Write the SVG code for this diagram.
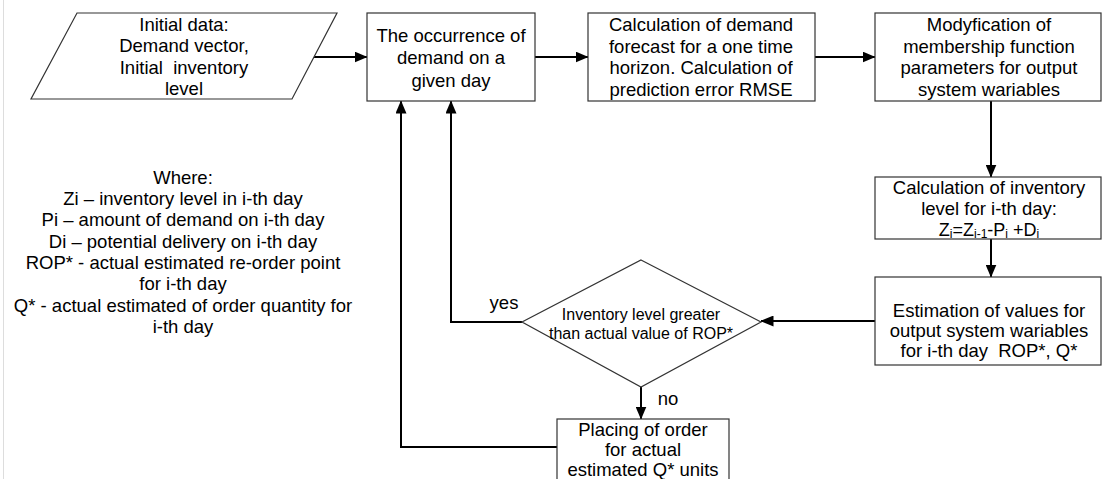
<svg xmlns="http://www.w3.org/2000/svg" width="1103" height="479" viewBox="0 0 1103 479">
<style>
text{font-family:"Liberation Sans",Arial,sans-serif;font-size:18.5px;fill:#000;text-anchor:middle}
.shape{fill:#fff;stroke:#333;stroke-width:1.2}
.conn{fill:none;stroke:#000;stroke-width:2}
.sm{font-size:18px}
.d{font-size:16px}
.sub{font-size:12px}
</style>
<defs>
<marker id="ah" markerUnits="userSpaceOnUse" markerWidth="13" markerHeight="11" refX="12.5" refY="5.5" orient="auto">
<path d="M0,0 L13,5.5 L0,11 z" fill="#000"/>
</marker>
</defs>
<rect width="1103" height="479" fill="#fff"/>
<line x1="3.5" y1="0" x2="3.5" y2="479" stroke="#ddd" stroke-width="1"/>
<g id="connectors">
<path class="conn" d="M314,57 H367" marker-end="url(#ah)"/>
<path class="conn" d="M535,57 H588" marker-end="url(#ah)"/>
<path class="conn" d="M815,57 H875" marker-end="url(#ah)"/>
<path class="conn" d="M991,101 V177" marker-end="url(#ah)"/>
<path class="conn" d="M991,239 V277" marker-end="url(#ah)"/>
<path class="conn" d="M875,321 H761" marker-end="url(#ah)"/>
<path class="conn" d="M522,322 H451 V101" marker-end="url(#ah)"/>
<path class="conn" d="M641,387 V419" marker-end="url(#ah)"/>
<path class="conn" d="M557,447 H401 V101" marker-end="url(#ah)"/>
</g>
<g id="input">
<polygon class="shape" points="77,13 337,13 292,99 31,99"/>
<text x="184" y="30.5">Initial data:</text>
<text x="184" y="52">Demand vector,</text>
<text x="184" y="73.5" xml:space="preserve">Initial  inventory</text>
<text x="184" y="95">level</text>
</g>
<g id="occurrence">
<rect class="shape" x="367" y="13" width="168" height="88"/>
<text x="451" y="41.5">The occurrence of</text>
<text x="451" y="64">demand on a</text>
<text x="451" y="86.5">given day</text>
</g>
<g id="forecast">
<rect class="shape" x="588" y="13" width="227" height="88"/>
<text x="701" y="31">Calculation of demand</text>
<text x="701" y="52.5">forecast for a one time</text>
<text x="701" y="74">horizon. Calculation of</text>
<text x="701" y="95.5">prediction error RMSE</text>
</g>
<g id="modification">
<rect class="shape" x="875" y="13" width="226" height="88"/>
<text x="989" y="31">Modyfication of</text>
<text x="989" y="52.5">membership function</text>
<text x="989" y="74">parameters for output</text>
<text x="989" y="95.5">system wariables</text>
</g>
<g id="inventory">
<rect class="shape" x="875" y="177" width="226" height="62"/>
<text x="989" y="193.5">Calculation of inventory</text>
<text x="989" y="214.5">level for i-th day:</text>
<text x="989" y="235.5" class="sm">Z<tspan class="sub" dy="2">i</tspan><tspan dy="-2">=Z</tspan><tspan class="sub" dy="2">i-1</tspan><tspan dy="-2">-P</tspan><tspan class="sub" dy="2">i</tspan><tspan dy="-2" xml:space="preserve"> +D</tspan><tspan class="sub" dy="2">i</tspan></text>
</g>
<g id="estimation">
<rect class="shape" x="875" y="277" width="226" height="88"/>
<text x="989" y="316.5">Estimation of values for</text>
<text x="989" y="336.5">output system wariables</text>
<text x="989" y="356.5" xml:space="preserve">for i-th day  ROP*, Q*</text>
</g>
<g id="decision">
<polygon class="shape" points="641,260 761,322 641,387 522,322"/>
<text class="d" x="641" y="319.5">Inventory level greater</text>
<text class="d" x="641" y="338.5">than actual value of ROP*</text>
</g>
<g id="order">
<rect class="shape" x="557" y="419" width="172" height="70"/>
<text x="643" y="436">Placing of order</text>
<text x="643" y="456">for actual</text>
<text x="643" y="475.5">estimated Q* units</text>
</g>
<g id="labels">
<text x="504" y="309">yes</text>
<text x="668" y="404.5">no</text>
</g>
<g id="legend">
<text x="183" y="183.5">Where:</text>
<text x="183" y="204.5">Zi – inventory level in i-th day</text>
<text x="183" y="226">Pi – amount of demand on i-th day</text>
<text x="183" y="247.5">Di – potential delivery on i-th day</text>
<text x="183" y="268.5">ROP* - actual estimated re-order point</text>
<text x="183" y="290">for i-th day</text>
<text x="183" y="311.5">Q* - actual estimated of order quantity for</text>
<text x="183" y="332.5">i-th day</text>
</g>
</svg>
